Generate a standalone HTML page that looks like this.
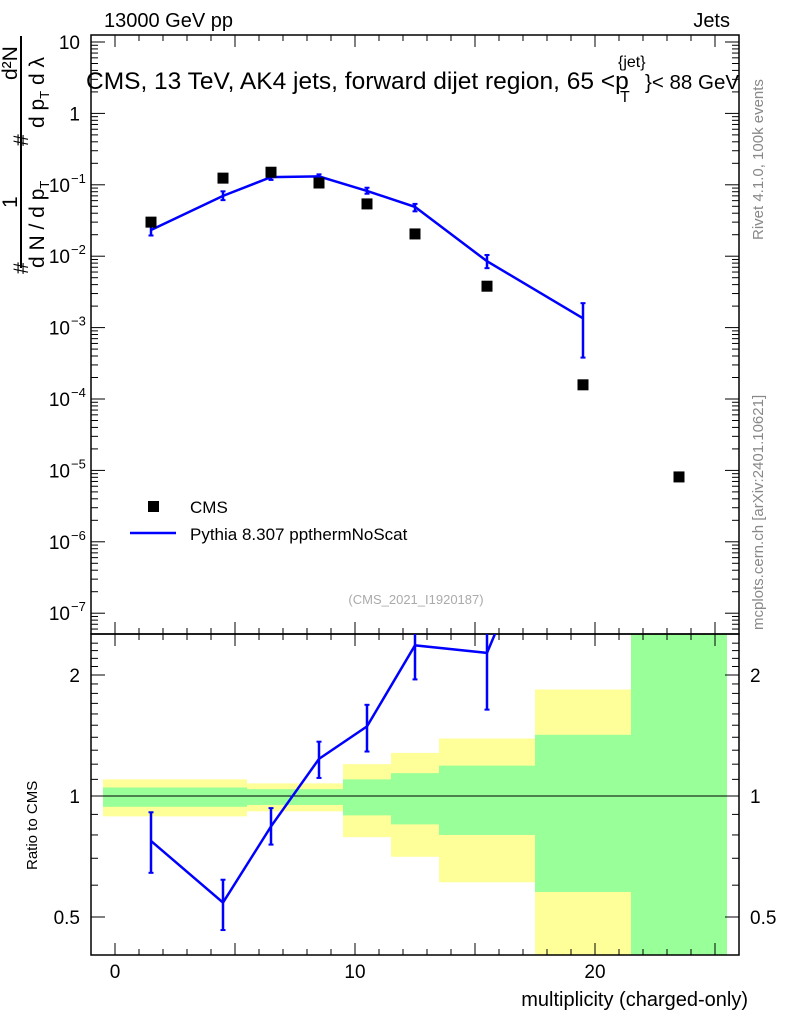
<!DOCTYPE html>
<html><head><meta charset="utf-8"><style>
body{margin:0;background:#fff}
svg{display:block;font-family:"Liberation Sans",sans-serif}
</style></head><body>
<svg id="c" width="786" height="1024"></svg>
<script>
const xs=[1.5,4.5,6.5,8.5,10.5,12.5,15.5,19.5,23.5];
const cmsVals=[0.030,0.124,0.15,0.106,0.054,0.0205,0.0038,1.58e-4,8.1e-6];
const mcX=[1.5,4.5,6.5,8.5,10.5,12.5,15.5,19.5];
const mcVals=[0.0233,0.070,0.128,0.131,0.082,0.049,0.0085,1.35e-3];
const mcLo=[0.0195,0.061,0.117,0.12,0.075,0.0425,0.0068,3.8e-4];
const mcHi=[0.0275,0.081,0.137,0.14,0.091,0.054,0.0104,2.2e-3];
const ratioVals=[0.773,0.543,0.84,1.237,1.49,2.37,2.27,8.4];
const ratioLo=[0.644,0.464,0.757,1.109,1.29,1.95,1.64,3.0];
const ratioHi=[0.911,0.619,0.933,1.365,1.686,2.8,2.9,14];
const binEdges=[-0.5,5.5,9.5,11.5,13.5,17.5,21.5,25.5];
const yelHi=[1.10,1.075,1.20,1.28,1.39,1.84,3];
const grnHi=[1.05,1.04,1.10,1.14,1.19,1.42,3];
const grnLo=[0.94,0.95,0.895,0.85,0.80,0.577,0.3];
const yelLo=[0.89,0.916,0.79,0.706,0.61,0.3,0.3];
const xTicks=[0,10,20];
const ratioTicks=[[2,"2"],[1,"1"],[0.5,"0.5"]];

const L=91,R=739,T=35,M=634,B=955;
const X=v=>L+(v+1)*(R-L)/27;
const Y=v=>42+(1-Math.log10(v))*71.4;
const RY=v=>796-Math.log2(v)*121;
const svg=document.getElementById('c');
const NS="http://www.w3.org/2000/svg";
function el(t,a,p){const e=document.createElementNS(NS,t);for(const k in a)e.setAttribute(k,a[k]);(p||svg).appendChild(e);return e;}
function txt(s,a,p){const e=el('text',a,p);e.textContent=s;return e;}
const cp=el('clipPath',{id:'cm'});el('rect',{x:L,y:T,width:R-L,height:M-T},cp);
const cr=el('clipPath',{id:'cr'});el('rect',{x:L,y:M,width:R-L,height:B-M},cr);

const bands=el('g',{'clip-path':'url(#cr)'});


for(let i=0;i<yelHi.length;i++){
 const x1=X(binEdges[i]),x2=X(binEdges[i+1]);
 const y=el('rect',{x:x1,y:RY(yelHi[i]),width:x2-x1,height:RY(yelLo[i])-RY(yelHi[i]),fill:'#ffff99'},bands);
 
 
 const g=el('rect',{x:x1,y:RY(grnHi[i]),width:x2-x1,height:RY(grnLo[i])-RY(grnHi[i]),fill:'#99ff99'},bands);
 
 
}
el('line',{x1:L,x2:R,y1:RY(1),y2:RY(1),stroke:'#000','stroke-width':1});

el('rect',{x:L,y:T,width:R-L,height:M-T,fill:'none',stroke:'#000','stroke-width':1.5});
el('rect',{x:L,y:M,width:R-L,height:B-M,fill:'none',stroke:'#000','stroke-width':1.5});

for(let v=-1;v<=26;v++){
 const major=v%5===0, len=major?12:6;
 for(const [y0,d] of [[T,1],[M,-1],[M,1],[B,-1]]){
  el('line',{x1:X(v),x2:X(v),y1:y0,y2:y0+d*len,stroke:'#000'});
 }
}
xTicks.forEach(v=>{const t=txt(v,{x:X(v),y:978,'font-size':19,'text-anchor':'middle'});
 
 });
for(let e=-8;e<=1;e++){for(let m=1;m<10;m++){const v=m*Math.pow(10,e);const y=Y(v);
 if(y<T||y>M)continue;const len=m===1?14:7;
 el('line',{x1:L,x2:L+len,y1:y,y2:y,stroke:'#000'});el('line',{x1:R,x2:R-len,y1:y,y2:y,stroke:'#000'});}}
const ylabs=[[10,"10",""],[1,"1",""],[0.1,"10","−1"],[0.01,"10","−2"],[1e-3,"10","−3"],[1e-4,"10","−4"],[1e-5,"10","−5"],[1e-6,"10","−6"],[1e-7,"10","−7"]];
ylabs.forEach(([v,b,s])=>{const t=txt(b,{x:s?70:80,y:Y(v)+7,'font-size':19,'text-anchor':'end'});
 
 
 if(s)txt(s,{x:71,y:Y(v)-2,'font-size':13});});
for(let k=0.4;k<=2.5;k+=0.1){const y=RY(k);if(y<M||y>B)continue;const major=Math.abs(k-1)<1e-6||Math.abs(k-2)<1e-6||Math.abs(k-0.5)<1e-6;const len=major?14:7;
 el('line',{x1:L,x2:L+len,y1:y,y2:y,stroke:'#000'});el('line',{x1:R,x2:R-len,y1:y,y2:y,stroke:'#000'});}
ratioTicks.forEach(([v,s])=>{txt(s,{x:80,y:RY(v)+7,'font-size':19,'text-anchor':'end'});txt(s,{x:750,y:RY(v)+7,'font-size':19});});

const gm=el('g',{'clip-path':'url(#cm)'});
el('polyline',{points:mcX.map((x,i)=>X(x)+','+Y(mcVals[i])).join(' '),fill:'none',stroke:'#0000ff','stroke-width':2.5},gm);
mcX.forEach((x,i)=>{el('line',{x1:X(x),x2:X(x),y1:Y(mcLo[i]),y2:Y(mcHi[i]),stroke:'#0000ff','stroke-width':2.5},gm);
 [mcLo[i],mcHi[i]].forEach(v=>el('line',{x1:X(x)-2.5,x2:X(x)+2.5,y1:Y(v),y2:Y(v),stroke:'#0000ff','stroke-width':2},gm));});
xs.forEach((x,i)=>{const r=el('rect',{x:X(x)-5.5,y:Y(cmsVals[i])-5.5,width:11,height:11,fill:'#000'},gm);
 
 });
const gr=el('g',{'clip-path':'url(#cr)'});
el('polyline',{points:mcX.map((x,i)=>X(x)+','+RY(ratioVals[i])).join(' '),fill:'none',stroke:'#0000ff','stroke-width':2.5},gr);
mcX.forEach((x,i)=>{el('line',{x1:X(x),x2:X(x),y1:RY(ratioLo[i]),y2:RY(ratioHi[i]),stroke:'#0000ff','stroke-width':2.5},gr);
 [ratioLo[i],ratioHi[i]].forEach(v=>el('line',{x1:X(x)-2.5,x2:X(x)+2.5,y1:RY(v),y2:RY(v),stroke:'#0000ff','stroke-width':2},gr));});
</script>
<svg width="786" height="1024" style="position:absolute;left:0;top:0" font-family="Liberation Sans, sans-serif">
<text x="104" y="27" font-size="20">13000 GeV pp</text>
<text x="730" y="27" font-size="20" text-anchor="end">Jets</text>
<g>
<text x="86" y="89" font-size="24.5">CMS, 13 TeV, AK4 jets, forward dijet region, 65 &lt;p</text>
<text x="620" y="102" font-size="16">T</text>
<text x="618" y="67" font-size="16">{jet}</text>
<text x="645" y="89" font-size="20.5">}&lt; 88 GeV</text>
</g>
<text transform="translate(763,240) rotate(-90)" font-size="15" fill="#888">Rivet 4.1.0,  100k events</text>
<text transform="translate(763,630) rotate(-90)" font-size="15" fill="#888">mcplots.cern.ch [arXiv:2401.10621]</text>
<text x="416" y="604" font-size="13" fill="#aaa" text-anchor="middle">(CMS_2021_I1920187)</text>
<rect x="148" y="501" width="11" height="11" fill="#000"/>
<text x="190" y="513" font-size="17">CMS</text>
<line x1="130" x2="176" y1="533" y2="533" stroke="#0000ff" stroke-width="2.5"/>
<text x="190" y="540" font-size="17">Pythia 8.307 ppthermNoScat</text>
<text x="748" y="1006" font-size="20" text-anchor="end">multiplicity (charged-only)</text>
<text transform="translate(37,870) rotate(-90)" font-size="15">Ratio to CMS</text>
<g font-size="21">
<line x1="21" y1="268" x2="21" y2="36" stroke="#000" stroke-width="2"/>
<text transform="translate(28,274) rotate(-90)">#</text>
<text transform="translate(17,208) rotate(-90)">1</text>
<text transform="translate(44,268) rotate(-90)">d N / d p<tspan font-size="13" dy="5">T</tspan></text>
<text transform="translate(28,146) rotate(-90)">#</text>
<text transform="translate(17,80) rotate(-90)">d²N</text>
<text transform="translate(44,128) rotate(-90)">d p<tspan font-size="13" dy="5">T</tspan><tspan dy="-5">  d λ</tspan></text>
</g>
</svg>
</body></html>
